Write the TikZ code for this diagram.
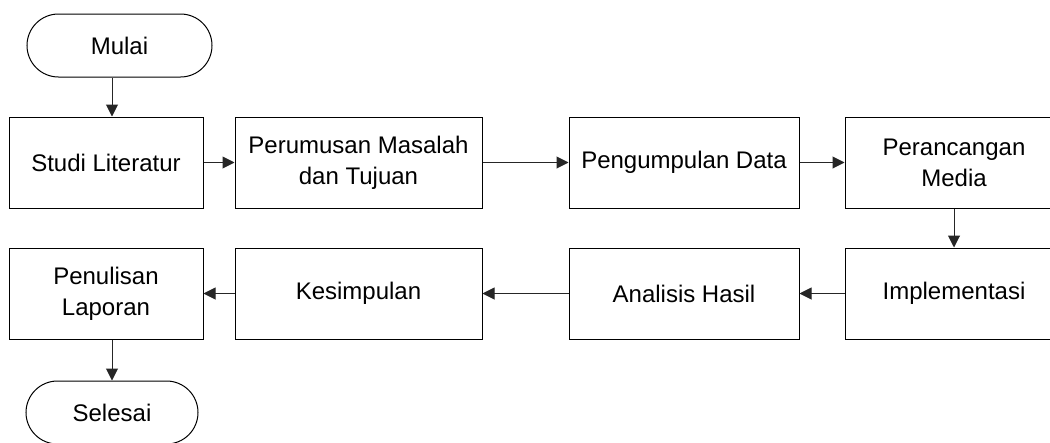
\documentclass[tikz,border=0pt]{standalone}
\usepackage{fontspec}
\setmainfont{Liberation Sans}
\usetikzlibrary{arrows.meta,shapes.misc}
\begin{document}
\begin{tikzpicture}[x=1pt,y=-1pt,
  box/.style={draw=black,line width=1pt,rectangle,minimum width=#1,minimum height=91pt,inner sep=0pt,align=center,font=\fontsize{24}{31}\selectfont},
  term/.style={draw=black,line width=1pt,rounded rectangle,minimum width=#1,minimum height=63pt,inner sep=0pt,align=center,font=\fontsize{24}{31}\selectfont},
  arr/.style={draw=black!85,line width=1pt,-{Triangle[length=12pt,width=12pt]}}]
\useasboundingbox (0,0) rectangle (1050,442);
\node[term=185pt] (mulai) at (119.5,45.5) {Mulai};
\node[box=194pt] (studi) at (106,162.5) {Studi Literatur};
\node[box=247pt] (rumus) at (358.5,162.5) {Perumusan Masalah\\dan Tujuan};
\node[box=230pt] (kumpul) at (684,162.5) {Pengumpulan Data};
\node[box=218pt] (rancang) at (954,162.5) {Perancangan\\Media};
\node[box=218pt] (impl) at (954,293.5) {Implementasi};
\node[box=230pt] (analisis) at (684,293.5) {Analisis Hasil};
\node[box=247pt] (simpul) at (358.5,293.5) {Kesimpulan};
\node[box=194pt] (tulis) at (106,293.5) {Penulisan\\Laporan};
\node[term=172pt] (selesai) at (112,412.5) {Selesai};
\draw[arr] (mulai.south -| selesai) -- (studi.north -| selesai);
\draw[arr] (studi) -- (rumus);
\draw[arr] (rumus) -- (kumpul);
\draw[arr] (kumpul) -- (rancang);
\draw[arr] (rancang) -- (impl);
\draw[arr] (impl) -- (analisis);
\draw[arr] (analisis) -- (simpul);
\draw[arr] (simpul) -- (tulis);
\draw[arr] (tulis.south -| selesai) -- (selesai.north);
\end{tikzpicture}
\end{document}
